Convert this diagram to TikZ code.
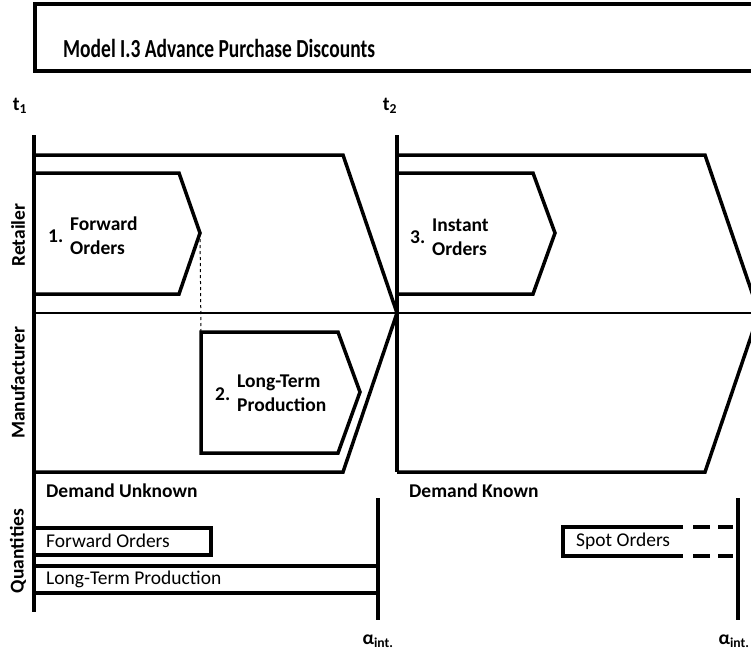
\documentclass[tikz,border=0pt]{standalone}
\usepackage{fontspec}
\setmainfont{Carlito}
\begin{document}
\begin{tikzpicture}[x=1pt, y=-1pt, every node/.style={inner sep=0pt},
	bar/.style={line width=3.5pt},
	lbl/.style={font=\fontsize{19.5}{24}\selectfont\bfseries, align=left},
	txt/.style={font=\fontsize{19.5}{24}\selectfont}]
			\useasboundingbox (0,0) rectangle (751,656);
			% title
			\draw[bar] (35,4) rectangle (770,71);
			\node[lbl, font=\fontsize{26}{30}\selectfont\bfseries, anchor=base west] (title) at (63,57) {\scalebox{0.75}[1]{Model I.3 Advance Purchase Discounts}};
			\node[lbl] (t1) at (20,106) {t\textsubscript{1}};
			\node[lbl] (t2) at (390,106) {t\textsubscript{2}};
			% time axes
			\coordinate (ax1 top) at (34,135);
			\coordinate (ax1 bot) at (34,612);
			\coordinate (ax2 top) at (397,135);
			\coordinate (ax2 bot) at (397,472);
			\draw[bar] (ax1 top) -- (ax1 bot);
			\draw[bar] (ax2 top) -- (ax2 bot);
			\draw[line width=1.2pt] (34,313) -- (751,313);
			% phases
			\draw[bar] (34,155) -- (343,155) -- (397,313) -- (343,472) -- (34,472);
			\draw[bar] (397,155) -- (705,155) -- (759,313) -- (705,472) -- (397,472);
			% steps
			\coordinate (fwd tip) at (200,233);
			\coordinate (ltp nw) at (201,332);
			\draw[bar] (34,173) -- (179,173) -- (fwd tip) -- (179,294) -- (34,294);
			\draw[bar] (ltp nw) -- (338,332) -- (360,392) -- (338,453) -- (201,453) -- cycle;
			\draw[bar] (397,173) -- (533,173) -- (555,233) -- (533,294) -- (397,294);
			\draw[line width=1pt, dashed] (fwd tip) -- (ltp nw);
			\node[lbl, anchor=west] (n1) at (48,236) {1.};
			\node[lbl, anchor=west] (fwd) at (70,236) {Forward\\Orders};
			\node[lbl, anchor=west] (n2) at (215,394) {2.};
			\node[lbl, anchor=west] (ltp) at (237,393) {Long-Term\\Production};
			\node[lbl, anchor=west] (n3) at (410,237) {3.};
			\node[lbl, anchor=west] (ins) at (432,237) {Instant\\Orders};
			% roles
			\node[lbl, rotate=90] (ret) at (18,235) {Retailer};
			\node[lbl, rotate=90] (man) at (18,383) {Manufacturer};
			\node[lbl, rotate=90] (qty) at (18,551) {Quantities};
			\node[lbl, anchor=west] (unk) at (46,491) {Demand Unknown};
			\node[lbl, anchor=west] (kno) at (409,491) {Demand Known};
			% quantities
			\coordinate (a1 top) at (378,498);
			\coordinate (a1 bot) at (378,620);
			\coordinate (a2 top) at (738,498);
			\coordinate (a2 bot) at (738,620);
			\draw[bar] (a1 top) -- (a1 bot);
			\draw[bar] (a2 top) -- (a2 bot);
			\draw[bar] (34,528) -- (211,528) -- (211,555) -- (34,555);
			\draw[bar] (34,566) -- (378,566);
			\draw[bar] (34,593) -- (378,593);
			\draw[bar] (683,527) -- (563,527) -- (563,556) -- (683,556);
			\draw[bar, dash pattern=on 17pt off 8pt] (693,527) -- (733,527);
			\draw[bar, dash pattern=on 17pt off 8pt] (693,556) -- (733,556);
			\node[txt, anchor=west] (qfwd) at (46,541) {Forward Orders};
			\node[txt, anchor=west] (qltp) at (46,579) {Long-Term Production};
			\node[txt, anchor=west] (qspt) at (576,541) {Spot Orders};
			\node[lbl] (al1) at (378,641) {α\textsubscript{int.}};
			\node[lbl] (al2) at (734,641) {α\textsubscript{int.}};
\end{tikzpicture}
\end{document}
